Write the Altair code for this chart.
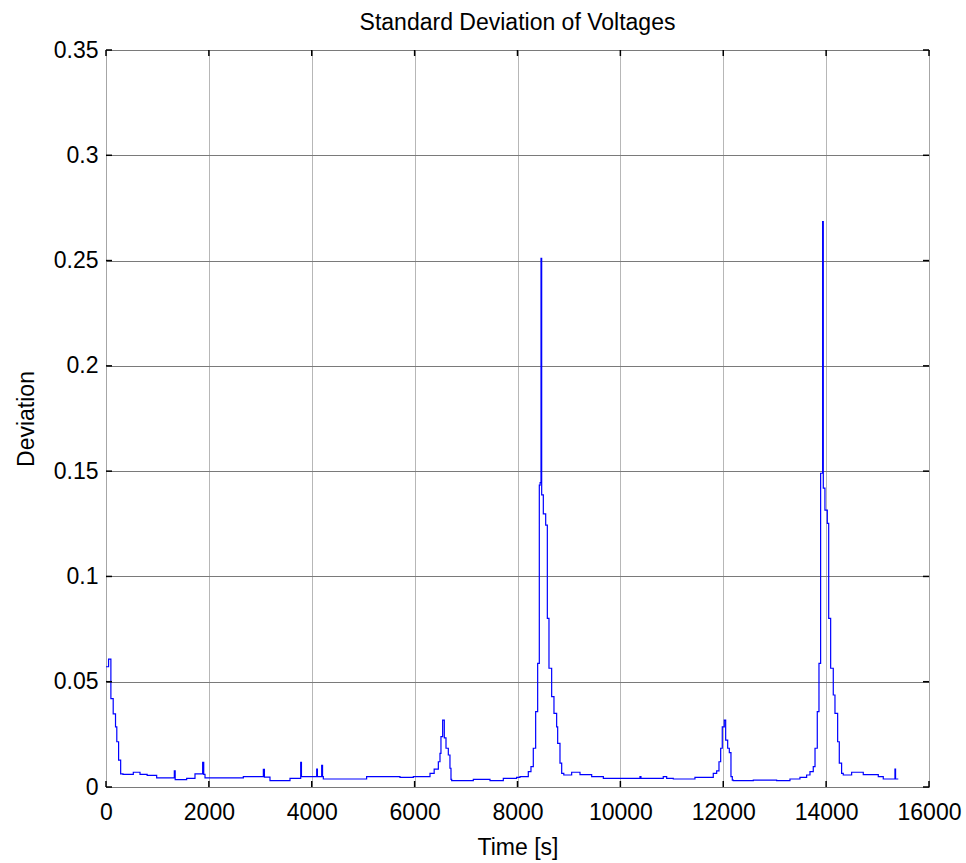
import altair as alt
import pandas as pd

# Time [s] and standard deviation values (step series)
time_s = [0, 50, 95, 140, 185, 210, 245, 285, 330, 531, 661, 800, 985, 1328, 1345, 1568, 1730, 1879, 1900,
          1925, 2670, 3059, 3080, 3188, 3577, 3785, 3800, 4096, 4110, 4193, 4210, 4225, 5067, 5715, 5975,
          6299, 6380, 6461, 6493, 6512, 6545, 6577, 6610, 6655, 6687, 6707, 6720, 7141, 7465, 7724, 7983,
          8048, 8210, 8262, 8307, 8353, 8392, 8424, 8440, 8457, 8470, 8502, 8548, 8580, 8612, 8664, 8709,
          8761, 8781, 8826, 8859, 8900, 9053, 9215, 9442, 9669, 10381, 10400, 10834, 10900, 11029, 11450,
          11806, 11872, 11917, 11950, 11981, 12020, 12047, 12086, 12118, 12150, 12176, 12195, 12584, 13038,
          13297, 13491, 13621, 13686, 13750, 13784, 13828, 13861, 13893, 13932, 13945, 13977, 14023, 14050,
          14088, 14139, 14172, 14224, 14256, 14301, 14333, 14496, 14722, 15014, 15111, 15338, 15350, 15403]
deviation = [0.0571, 0.0607, 0.042, 0.0347, 0.0286, 0.0215, 0.0128, 0.0062, 0.0060, 0.0070, 0.0060, 0.0055,
             0.0043, 0.0077, 0.0035, 0.0041, 0.0062, 0.0117, 0.0060, 0.0043, 0.0049, 0.0084, 0.0047, 0.0030,
             0.0041, 0.0117, 0.0049, 0.0085, 0.0049, 0.0103, 0.0049, 0.0038, 0.0049, 0.0046, 0.0049, 0.0065,
             0.0085, 0.0120, 0.0160, 0.0239, 0.0318, 0.0233, 0.0184, 0.0152, 0.0089, 0.0036, 0.0030, 0.0036,
             0.0030, 0.0041, 0.0046, 0.0049, 0.0073, 0.0097, 0.0184, 0.0358, 0.0587, 0.1434, 0.1445, 0.2511,
             0.1387, 0.1297, 0.1244, 0.0801, 0.0564, 0.0429, 0.0350, 0.0286, 0.0207, 0.0113, 0.0065, 0.0057,
             0.0070, 0.0059, 0.0049, 0.0041, 0.0049, 0.0041, 0.0049, 0.0041, 0.0038, 0.0046, 0.0065, 0.0077,
             0.0120, 0.0184, 0.0286, 0.0318, 0.0223, 0.0184, 0.0163, 0.0049, 0.0033, 0.0030, 0.0033, 0.0030,
             0.0038, 0.0046, 0.0057, 0.0073, 0.0097, 0.0184, 0.0358, 0.0587, 0.1490, 0.2685, 0.1419, 0.1315,
             0.1252, 0.0801, 0.0564, 0.0437, 0.0350, 0.0215, 0.0113, 0.0065, 0.0057, 0.0070, 0.0059, 0.0049,
             0.0038, 0.0085, 0.0038, 0.0038]

x_ticks = [0, 2000, 4000, 6000, 8000, 10000, 12000, 14000, 16000]
y_ticks = [0, 0.05, 0.1, 0.15, 0.2, 0.25, 0.3, 0.35]

W, H = 823, 737
FONT = "Liberation Sans"

df = pd.DataFrame({"t": time_s, "v": deviation})
xt = pd.DataFrame({"t": x_ticks})
yt = pd.DataFrame({"v": y_ticks})

xscale = alt.Scale(domain=[0, 16000], nice=False, zero=False)
yscale = alt.Scale(domain=[0, 0.35], nice=False)

line = alt.Chart(df).mark_line(
    interpolate="step-after", color="#0000ff", strokeWidth=1.2, clip=True
).encode(
    x=alt.X("t:Q", scale=xscale, axis=alt.Axis(
        values=x_ticks, format="d", title="Time [s]", grid=True, gridColor="#6e6e6e",
        gridDash=[1, 1], gridWidth=1, tickSize=0, domain=False,
        labelFontSize=23, labelFont=FONT, labelColor="#000", labelPadding=14,
        titleFontSize=23, titleFont=FONT, titleFontWeight="normal", titleColor="#000",
        titlePadding=12, labelFlush=False)),
    y=alt.Y("v:Q", scale=yscale, axis=alt.Axis(
        values=y_ticks, format=".2~f", title="Deviation", grid=True, gridColor="#7a7a7a",
        gridWidth=1, tickSize=0, domain=False,
        labelFontSize=23, labelFont=FONT, labelColor="#000", labelPadding=8,
        titleFontSize=23, titleFont=FONT, titleFontWeight="normal", titleColor="#000",
        titlePadding=15, labelFlush=False)),
)

tick_bottom = alt.Chart(xt).mark_rule(color="black", strokeWidth=1.5).encode(
    x=alt.X("t:Q", scale=xscale), y=alt.value(H), y2=alt.value(H - 6))
tick_top = alt.Chart(xt).mark_rule(color="black", strokeWidth=1.5).encode(
    x=alt.X("t:Q", scale=xscale), y=alt.value(0), y2=alt.value(6))
tick_left = alt.Chart(yt).mark_rule(color="black", strokeWidth=1.5).encode(
    y=alt.Y("v:Q", scale=yscale), x=alt.value(0), x2=alt.value(6))
tick_right = alt.Chart(yt).mark_rule(color="black", strokeWidth=1.5).encode(
    y=alt.Y("v:Q", scale=yscale), x=alt.value(W), x2=alt.value(W - 6))

chart = alt.layer(line, tick_bottom, tick_top, tick_left, tick_right).properties(
    width=W, height=H,
    title=alt.TitleParams("Standard Deviation of Voltages", fontSize=23, font=FONT,
                          fontWeight="normal", color="#000", offset=4, anchor="middle"),
    autosize=alt.AutoSizeParams(type="none"),
    padding={"left": 106, "top": 50, "right": 37, "bottom": 76},
).configure_view(stroke="black", strokeWidth=1.5).configure(background="white")

chart.save("out.html", embed_options={"renderer": "svg", "actions": False})
